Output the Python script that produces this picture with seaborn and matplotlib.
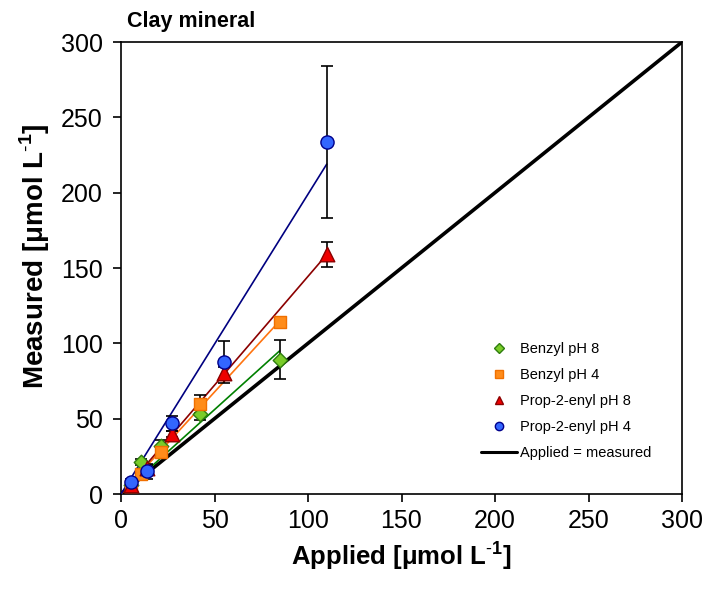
import numpy as np
import pandas as pd
import matplotlib
matplotlib.use("Agg")
import matplotlib.pyplot as plt
import seaborn as sns
from matplotlib.lines import Line2D

# Applied concentrations (µmol/L)
benzyl_applied = [5.3, 10.6, 21.2, 42.4, 84.8]
prop_applied = [5.5, 13.75, 27.5, 55.0, 110.0]

# Measured concentrations and standard deviations (µmol/L)
benzyl_ph8 = [6.0, 21.0, 32.0, 53.0, 89.0]
benzyl_ph8_sd = [2.0, 2.0, 4.0, 4.0, 13.0]
benzyl_ph4 = [5.0, 13.0, 28.0, 60.0, 114.0]
benzyl_ph4_sd = [1.5, 2.0, 3.0, 6.0, 2.0]
prop_ph8 = [6.0, 17.0, 40.0, 80.0, 159.0]
prop_ph8_sd = [1.5, 2.0, 2.0, 4.0, 8.5]
prop_ph4 = [8.0, 15.0, 47.0, 87.5, 233.5]
prop_ph4_sd = [2.0, 5.0, 5.0, 14.0, 50.5]

series_names = ["Benzyl pH 8", "Benzyl pH 4", "Prop-2-enyl pH 8", "Prop-2-enyl pH 4"]
xlim = [0, 300]
ticks = [0, 50, 100, 150, 200, 250, 300]

sns.set_style("ticks")
plt.rcParams["font.family"] = ["Liberation Sans", "DejaVu Sans"]
plt.rcParams["mathtext.fontset"] = "custom"
plt.rcParams["mathtext.rm"] = "Liberation Sans"
plt.rcParams["mathtext.bf"] = "Liberation Sans:bold"
plt.rcParams["text.color"] = "black"
plt.rcParams["axes.labelcolor"] = "black"

styles = {
    "Benzyl pH 8": dict(marker="D", face="#7ACC29", edge="#2E7D0E", line="#008000", size=55),
    "Benzyl pH 4": dict(marker="s", face="#FF8C1A", edge="#F07000", line="#FF7410", size=75),
    "Prop-2-enyl pH 8": dict(marker="^", face="#EE0000", edge="#8B0000", line="#8B0000", size=110),
    "Prop-2-enyl pH 4": dict(marker="o", face="#3366FF", edge="#00008B", line="#000080", size=90),
}

frames = []
for name, xs, ys, sd in [
    ("Benzyl pH 8", benzyl_applied, benzyl_ph8, benzyl_ph8_sd),
    ("Benzyl pH 4", benzyl_applied, benzyl_ph4, benzyl_ph4_sd),
    ("Prop-2-enyl pH 8", prop_applied, prop_ph8, prop_ph8_sd),
    ("Prop-2-enyl pH 4", prop_applied, prop_ph4, prop_ph4_sd),
]:
    frames.append(pd.DataFrame({"series": name, "applied": xs, "measured": ys, "sd": sd}))
df = pd.concat(frames, ignore_index=True)

fig = plt.figure(figsize=(7.08, 5.93), dpi=100)
ax = fig.add_axes([121 / 708, 1 - 494 / 593, 561 / 708, 452 / 593])

# 1:1 reference line
sns.lineplot(x=xlim, y=xlim, ax=ax, color="black", linewidth=2.6, zorder=2)

for name in series_names:
    sub = df[df["series"] == name]
    st = styles[name]
    # regression through the origin
    x = sub["applied"].to_numpy()
    y = sub["measured"].to_numpy()
    slope = np.sum(x * y) / np.sum(x * x)
    fit = pd.DataFrame({"applied": [0.0, x.max()], "measured": [0.0, slope * x.max()]})
    sns.lineplot(data=fit, x="applied", y="measured", ax=ax, color=st["line"],
                 linewidth=1.2, zorder=3)
    ax.errorbar(x, y, yerr=sub["sd"].to_numpy(), fmt="none", ecolor="black",
                elinewidth=1.2, capsize=4, capthick=1.2, zorder=4)
    sns.scatterplot(data=sub, x="applied", y="measured", ax=ax, marker=st["marker"],
                    color=st["face"], edgecolor=st["edge"], linewidth=1.0,
                    s=st["size"], zorder=5, legend=False)

ax.set_xlim(xlim)
ax.set_ylim(xlim)
ax.set_xticks(ticks)
ax.set_yticks(ticks)
ax.tick_params(direction="out", length=6, width=1.2, labelsize=18,
               colors="black", labelcolor="black")
ax.tick_params(axis="x", pad=5)
ax.tick_params(axis="y", pad=7)
for sp in ax.spines.values():
    sp.set_linewidth(1.2)
    sp.set_color("black")

unit = r" [μmol L$^{\mathbf{\text{-}1}}$]"
ax.set_xlabel("Applied" + unit, fontsize=18.5, fontweight="bold", labelpad=4)
ax.set_ylabel("Measured" + unit, fontsize=20, fontweight="bold")
ax.yaxis.set_label_coords((52 - 121) / 561, (494 - 256) / 452)

fig.text(127 / 708, 1 - 21 / 593, "Clay mineral", fontsize=15.5, fontweight="bold",
         ha="left", va="center")

handles = []
for name in series_names:
    st = styles[name]
    handles.append(Line2D([], [], linestyle="none", marker=st["marker"],
                          markerfacecolor=st["face"], markeredgecolor=st["edge"],
                          markersize=6 if st["marker"] != "D" else 5, label=name))
handles.append(Line2D([], [], color="black", linewidth=2.2, label="Applied = measured"))
ax.legend(handles=handles, loc="upper left",
          bbox_to_anchor=((481 - 121) / 561, (494 - 342) / 452),
          frameon=False, fontsize=10.5, handlelength=2.5, handletextpad=0.2,
          labelspacing=0.82, borderpad=0, borderaxespad=0)

fig.savefig("out.png", dpi=100)
